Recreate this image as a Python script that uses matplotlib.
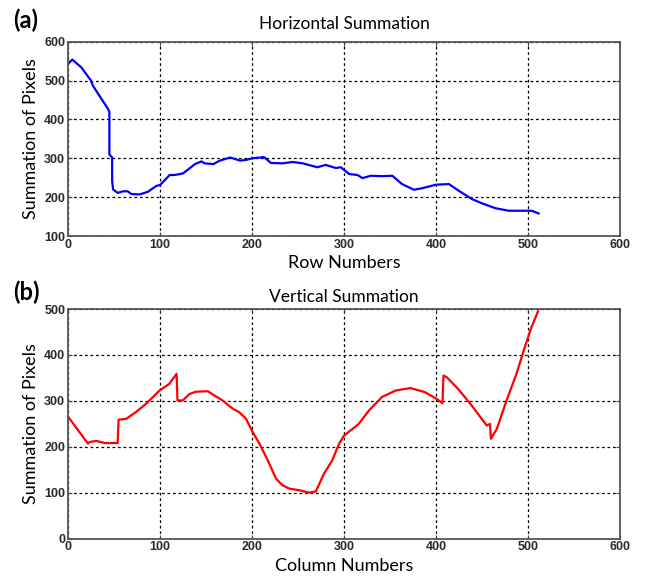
import numpy as np
import matplotlib
matplotlib.use('Agg')
import matplotlib.pyplot as plt

# (a) horizontal summation
row_x = [0, 4.7, 14.5, 25, 27, 43.5, 45, 45, 48, 48, 49, 54, 60, 65, 69, 78, 87, 96, 100,
         110.5, 116, 125, 138, 145, 148.6, 158, 165, 176, 179, 187, 194, 200,
         213, 220.6, 233, 244, 255, 271, 280, 291, 296.5, 305.5, 314.6, 320, 329,
         341.7, 352.5, 363, 376, 385, 400, 414, 425, 439, 450, 464.5, 479, 504, 511.5]
row_y = [543, 554, 534, 500, 487, 427, 419, 310, 302, 241, 220, 211, 215, 215, 208, 207, 214, 229, 231,
         257, 257, 261, 285, 292, 287, 285, 294, 302, 300, 294, 296, 300,
         303, 288, 287, 290.5, 287, 277, 283, 275, 277, 259.5, 257, 249, 255,
         254, 255, 233.6, 219, 223, 232, 233.6, 216, 195, 184, 171.5, 165, 165, 158]

# (b) vertical summation
col_x = [0, 21.7, 23.5, 30.7, 39.8, 54, 55, 63.3, 74, 85, 99.5, 110, 118, 119, 124.8,
         132, 139, 152, 159, 168, 179, 186, 193.5, 200.7, 208, 217, 226, 233, 240.5,
         251, 262, 269.4, 278, 287, 294.6, 300, 307, 316, 327, 341.4, 356, 372, 388,
         400.9, 407, 408, 411.7, 424, 438.7, 455, 458.6, 459.6, 466, 476.6, 487.4,
         496.4, 503.6, 510.8]
col_y = [266, 207, 210.5, 213, 208.3, 208.3, 259, 261, 276, 294, 322.6, 337, 359, 301, 301,
         315, 320, 321, 312, 301, 283, 275.6, 261, 232, 207, 171, 131, 116.5, 109,
         105.6, 100.5, 103, 141, 170, 206.5, 224.6, 235.5, 250, 279, 308.7, 322.5, 328, 319,
         304, 295, 355, 351.4, 326, 290, 246.4, 250, 217.4, 239, 301, 359,
         417, 460, 495]

x_ticks = [0, 100, 200, 300, 400, 500, 600]
top_yticks = [100, 200, 300, 400, 500, 600]
bot_yticks = [0, 100, 200, 300, 400, 500]

label_font = ['Lato', 'DejaVu Sans']
tick_font = ['Liberation Sans', 'DejaVu Sans']


def style_axes(ax, yticks):
    ax.set_xlim(0, 600)
    ax.set_ylim(yticks[0], yticks[-1])
    ax.set_xticks(x_ticks)
    ax.set_yticks(yticks)
    ax.grid(True, color='black', linestyle=(0, (2.2, 2.2)), linewidth=0.9)
    ax.tick_params(direction='in', length=3, top=True, right=True, pad=2,
                   labelsize=9, labelcolor='#2a2a2a', color='#444444')
    for lab in ax.get_xticklabels() + ax.get_yticklabels():
        lab.set_family(tick_font)
        lab.set_fontweight('bold')
    for sp in ax.spines.values():
        sp.set_color('#555555')
        sp.set_linewidth(1.3)


fig = plt.figure(figsize=(6.45, 5.81), dpi=100)
ax1 = fig.add_axes([0.1054, 0.5938, 0.856, 0.3344])
ax2 = fig.add_axes([0.1054, 0.0728, 0.856, 0.3953])

ax1.plot(row_x, row_y, color='blue', linewidth=1.6)
style_axes(ax1, top_yticks)
ax1.set_title('Horizontal Summation', family=label_font, fontsize=12.5, pad=9)
ax1.set_xlabel('Row Numbers', family=label_font, fontsize=13, labelpad=3)
ax1.set_ylabel('Summation of Pixels', family=label_font, fontsize=13, labelpad=4)

ax2.plot(col_x, col_y, color='red', linewidth=1.6)
style_axes(ax2, bot_yticks)
ax2.set_title('Vertical Summation', family=label_font, fontsize=12.5, pad=5)
ax2.set_xlabel('Column Numbers', family=label_font, fontsize=13, labelpad=3)
ax2.set_ylabel('Summation of Pixels', family=label_font, fontsize=13, labelpad=4)

fig.text(0.02, 0.965, '(a)', family=label_font, fontsize=17, fontweight='bold', va='center')
fig.text(0.02, 0.497, '(b)', family=label_font, fontsize=17, fontweight='bold', va='center')

fig.savefig('out.png', dpi=100)
